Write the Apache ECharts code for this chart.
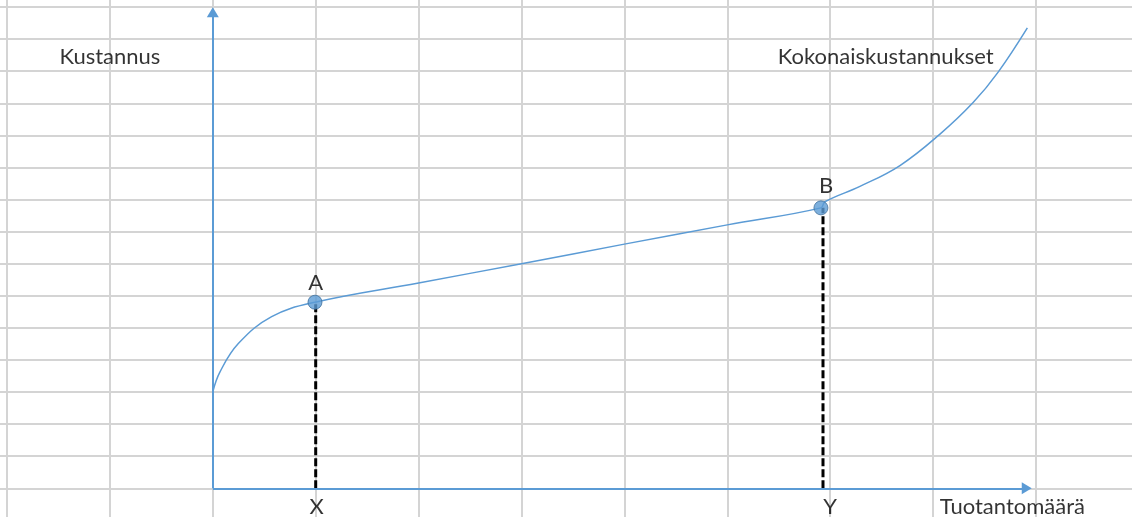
<!DOCTYPE html>
<html>
<head>
<meta charset="utf-8">
<script src="https://cdn.jsdelivr.net/npm/echarts@6/dist/echarts.min.js"></script>
<style>
  html, body { margin: 0; padding: 0; background: #ffffff; }
  #chart { width: 1132px; height: 517px; }
</style>
</head>
<body>
<div id="chart"></div>
<script>
// Total cost curve (Kokonaiskustannukset)
var curveX = [0, 0.07, 0.248, 0.572, 0.993, 2, 3, 4, 5, 5.91, 5.948, 6.289, 6.678, 7.067, 7.391, 7.634, 7.916];
var curveY = [3.01, 3.63, 4.51, 5.35, 5.80, 6.40, 7.0, 7.61, 8.21, 8.74, 8.93, 9.41, 10.06, 11.04, 12.03, 12.98, 14.35];

// Marked points A and B
var pointNames = ['A', 'B'];
var pointX = [0.993, 5.91];
var pointY = [5.80, 8.74];

// Dashed drop lines from A and B to the quantity axis
var dropX = [1.0, 5.93];
var dropTop = [5.80, 8.74];

// Drawn axes (arrows): end of each axis line
var axisXEnd = 7.91;
var axisYEnd = 14.84;

// Texts and their anchor points
var textNames = ['Kustannus', 'Kokonaiskustannukset', 'A', 'B', 'X', 'Y', 'Tuotantomäärä'];
var textX = [-1.0, 6.54, 1.0, 5.96, 1.01, 6.0, 7.77];
var textY = [13.45, 13.45, 6.39, 9.43, -0.58, -0.58, -0.58];

var blue = '#5b9bd5';

var curveData = curveX.map(function (x, i) { return [x, curveY[i]]; });
var pointData = pointX.map(function (x, i) { return { name: pointNames[i], value: [x, pointY[i]] }; });
var dropSeries = dropX.map(function (x, i) {
  return {
    type: 'line',
    data: [[x, 0], [x, dropTop[i]]],
    symbol: 'none',
    silent: true,
    z: 3,
    lineStyle: { color: '#000000', width: 3, type: [8, 3] }
  };
});
var textData = textNames.map(function (n, i) {
  return { value: [textX[i], textY[i]], label: { formatter: n } };
});

var chart = echarts.init(document.getElementById('chart'), null, { renderer: 'canvas' });
chart.setOption({
  animation: false,
  backgroundColor: '#ffffff',
  grid: { left: -95.9, top: -25.09, width: 1234.8, height: 545.5, containLabel: false, outerBoundsMode: 'none' },
  xAxis: {
    type: 'value', min: -3, max: 9, interval: 1,
    axisLine: { show: false }, axisTick: { show: false }, axisLabel: { show: false },
    splitLine: { show: true, lineStyle: { color: '#d4d4d4', width: 2 } }
  },
  yAxis: {
    type: 'value', min: -1, max: 16, interval: 1,
    axisLine: { show: false }, axisTick: { show: false }, axisLabel: { show: false },
    splitLine: { show: true, lineStyle: { color: '#d4d4d4', width: 2 } }
  },
  series: [
    {
      type: 'line',
      data: [],
      silent: true,
      z: 2,
      markLine: {
        silent: true,
        symbol: ['none', 'triangle'],
        symbolSize: [12, 10],
        label: { show: false },
        lineStyle: { color: blue, width: 2, type: 'solid' },
        emphasis: { disabled: true },
        data: [
          [{ coord: [0, 0] }, { coord: [axisXEnd, 0] }],
          [{ coord: [0, 0] }, { coord: [0, axisYEnd] }]
        ]
      }
    },
    {
      type: 'line',
      data: curveData,
      symbol: 'none',
      smooth: 0.4,
      silent: true,
      z: 4,
      lineStyle: { color: blue, width: 1.5 }
    }
  ].concat(dropSeries).concat([
    {
      type: 'scatter',
      data: pointData,
      symbol: 'circle',
      symbolSize: 14,
      silent: true,
      z: 5,
      itemStyle: { color: blue, borderColor: '#41719c', borderWidth: 1 }
    },
    {
      type: 'scatter',
      data: textData,
      symbolSize: 1,
      silent: true,
      z: 6,
      itemStyle: { color: 'transparent' },
      label: {
        show: true,
        position: 'inside',
        color: '#000000',
        fontFamily: 'Lato',
        fontSize: 22
      }
    }
  ])
});
</script>
</body>
</html>
